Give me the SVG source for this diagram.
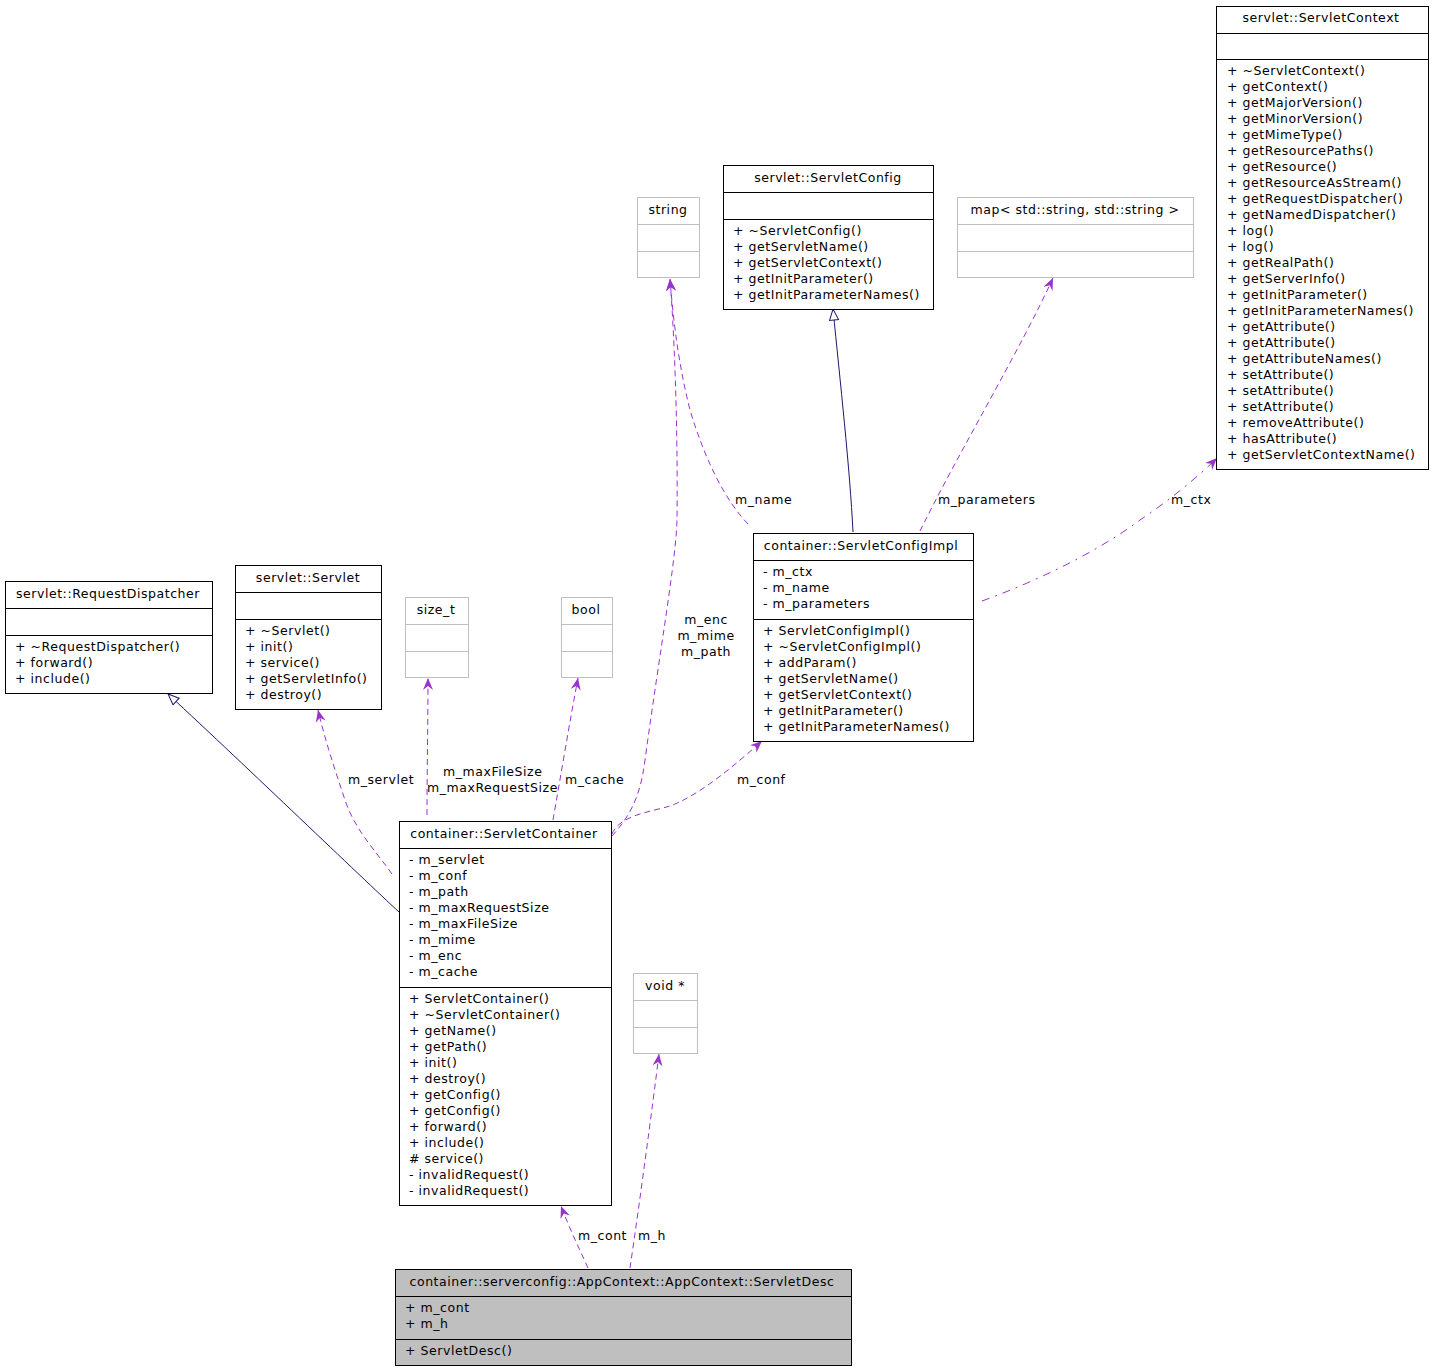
<svg xmlns="http://www.w3.org/2000/svg" width="1432" height="1371" viewBox="0 0 1432 1371">
<style>
text{font-family:"DejaVu Sans","Liberation Sans",sans-serif;font-size:12.5px;letter-spacing:0.55px;fill:#000}
.c{text-anchor:middle}
.box{fill:#fff;stroke:#000;stroke-width:1}
.gbox{fill:#fff;stroke:#bfbfbf;stroke-width:1}
.sel{fill:#bfbfbf;stroke:#000;stroke-width:1}
.ln{stroke:#000;stroke-width:1}
.gln{stroke:#bfbfbf;stroke-width:1}
.dep{fill:none;stroke:#9a32cd;stroke-width:1;stroke-dasharray:6,4}
.dd{fill:none;stroke:#9a32cd;stroke-width:1;stroke-dasharray:8,6,2,6}
.inh{fill:none;stroke:#191970;stroke-width:1}
</style>
<defs>
<marker id="vee" markerUnits="userSpaceOnUse" markerWidth="14" markerHeight="12" refX="12" refY="5" orient="auto">
<path d="M0,0 L12,5 L0,10 L4,5 Z" fill="#9a32cd"/>
</marker>
<marker id="tri" markerUnits="userSpaceOnUse" markerWidth="14" markerHeight="12" refX="12" refY="5" orient="auto">
<path d="M1,0.5 L12,5 L1,9.5 Z" fill="#fff" stroke="#191970"/>
</marker>
</defs>

<g id="connectors">
<path class="inh" marker-end="url(#tri)" d="M399,912 C360,876 250,770 168,694"/>
<path class="dep" marker-end="url(#vee)" d="M392,874 C375,850 355,830 345,800 C335,770 325,740 318,710"/>
<path class="dep" marker-end="url(#vee)" d="M427,815 C427,770 428,720 428,678"/>
<path class="dep" marker-end="url(#vee)" d="M553,820 C560,780 570,720 578,678"/>
<path class="dep" marker-end="url(#vee)" d="M612,834 C620,815 650,812 670,806 C700,795 735,765 762,741"/>
<path class="dep" marker-end="url(#vee)" d="M612,836 C628,818 640,800 645,760 C660,650 676,560 677,520 C678,420 674,330 670,279"/>
<path class="dep" marker-end="url(#vee)" d="M748,524 C725,500 705,460 690,410 C680,370 674,330 670,279"/>
<path class="inh" marker-end="url(#tri)" d="M853,532 C850,470 840,380 833,309"/>
<path class="dep" marker-end="url(#vee)" d="M920,531 C960,450 1020,350 1053,278"/>
<path class="dd" marker-end="url(#vee)" d="M982,601 C1040,580 1100,550 1140,520 C1170,500 1200,475 1217,458"/>
<path class="dep" marker-end="url(#vee)" d="M588,1268 C580,1250 570,1230 561,1206"/>
<path class="dep" marker-end="url(#vee)" d="M630,1268 C640,1200 652,1110 659,1054"/>
<text x="348" y="784">m_servlet</text>
<text x="443" y="776">m_maxFileSize</text>
<text x="427" y="792">m_maxRequestSize</text>
<text x="565" y="784">m_cache</text>
<text class="c" x="706" y="624">m_enc</text>
<text class="c" x="706" y="640">m_mime</text>
<text class="c" x="706" y="656">m_path</text>
<text x="735" y="504">m_name</text>
<text x="938" y="504">m_parameters</text>
<text x="1171" y="504">m_ctx</text>
<text x="737" y="784">m_conf</text>
<text x="578" y="1240">m_cont</text>
<text x="638" y="1240">m_h</text>
</g>

<g id="ServletContext">
<rect class="box" x="1216.5" y="6.5" width="212" height="463"/>
<line class="ln" x1="1216.5" y1="33.5" x2="1428.5" y2="33.5"/>
<line class="ln" x1="1216.5" y1="59.5" x2="1428.5" y2="59.5"/>
<text class="c" x="1321" y="22">servlet::ServletContext</text>
<text x="1227" y="75">+ ~ServletContext()</text>
<text x="1227" y="91">+ getContext()</text>
<text x="1227" y="107">+ getMajorVersion()</text>
<text x="1227" y="123">+ getMinorVersion()</text>
<text x="1227" y="139">+ getMimeType()</text>
<text x="1227" y="155">+ getResourcePaths()</text>
<text x="1227" y="171">+ getResource()</text>
<text x="1227" y="187">+ getResourceAsStream()</text>
<text x="1227" y="203">+ getRequestDispatcher()</text>
<text x="1227" y="219">+ getNamedDispatcher()</text>
<text x="1227" y="235">+ log()</text>
<text x="1227" y="251">+ log()</text>
<text x="1227" y="267">+ getRealPath()</text>
<text x="1227" y="283">+ getServerInfo()</text>
<text x="1227" y="299">+ getInitParameter()</text>
<text x="1227" y="315">+ getInitParameterNames()</text>
<text x="1227" y="331">+ getAttribute()</text>
<text x="1227" y="347">+ getAttribute()</text>
<text x="1227" y="363">+ getAttributeNames()</text>
<text x="1227" y="379">+ setAttribute()</text>
<text x="1227" y="395">+ setAttribute()</text>
<text x="1227" y="411">+ setAttribute()</text>
<text x="1227" y="427">+ removeAttribute()</text>
<text x="1227" y="443">+ hasAttribute()</text>
<text x="1227" y="459">+ getServletContextName()</text>
</g>

<g id="string">
<rect class="gbox" x="637.5" y="197.5" width="62" height="80"/>
<line class="gln" x1="637.5" y1="224.5" x2="699.5" y2="224.5"/>
<line class="gln" x1="637.5" y1="251.5" x2="699.5" y2="251.5"/>
<text class="c" x="668" y="214">string</text>
</g>

<g id="ServletConfig">
<rect class="box" x="723.5" y="165.5" width="210" height="144"/>
<line class="ln" x1="723.5" y1="192.5" x2="933.5" y2="192.5"/>
<line class="ln" x1="723.5" y1="219.5" x2="933.5" y2="219.5"/>
<text class="c" x="828" y="182">servlet::ServletConfig</text>
<text x="733" y="235">+ ~ServletConfig()</text>
<text x="733" y="251">+ getServletName()</text>
<text x="733" y="267">+ getServletContext()</text>
<text x="733" y="283">+ getInitParameter()</text>
<text x="733" y="299">+ getInitParameterNames()</text>
</g>

<g id="map">
<rect class="gbox" x="957.5" y="197.5" width="236" height="80"/>
<line class="gln" x1="957.5" y1="224.5" x2="1193.5" y2="224.5"/>
<line class="gln" x1="957.5" y1="251.5" x2="1193.5" y2="251.5"/>
<text class="c" x="1075" y="214">map&lt; std::string, std::string &gt;</text>
</g>

<g id="RequestDispatcher">
<rect class="box" x="5.5" y="581.5" width="207" height="112"/>
<line class="ln" x1="5.5" y1="608.5" x2="212.5" y2="608.5"/>
<line class="ln" x1="5.5" y1="635.5" x2="212.5" y2="635.5"/>
<text class="c" x="108" y="598">servlet::RequestDispatcher</text>
<text x="15" y="651">+ ~RequestDispatcher()</text>
<text x="15" y="667">+ forward()</text>
<text x="15" y="683">+ include()</text>
</g>

<g id="Servlet">
<rect class="box" x="235.5" y="565.5" width="146" height="144"/>
<line class="ln" x1="235.5" y1="592.5" x2="381.5" y2="592.5"/>
<line class="ln" x1="235.5" y1="619.5" x2="381.5" y2="619.5"/>
<text class="c" x="308" y="582">servlet::Servlet</text>
<text x="245" y="635">+ ~Servlet()</text>
<text x="245" y="651">+ init()</text>
<text x="245" y="667">+ service()</text>
<text x="245" y="683">+ getServletInfo()</text>
<text x="245" y="699">+ destroy()</text>
</g>

<g id="size_t">
<rect class="gbox" x="405.5" y="597.5" width="63" height="80"/>
<line class="gln" x1="405.5" y1="624.5" x2="468.5" y2="624.5"/>
<line class="gln" x1="405.5" y1="651.5" x2="468.5" y2="651.5"/>
<text class="c" x="436" y="614">size_t</text>
</g>

<g id="bool">
<rect class="gbox" x="561.5" y="597.5" width="51" height="80"/>
<line class="gln" x1="561.5" y1="624.5" x2="612.5" y2="624.5"/>
<line class="gln" x1="561.5" y1="651.5" x2="612.5" y2="651.5"/>
<text class="c" x="586" y="614">bool</text>
</g>

<g id="ServletConfigImpl">
<rect class="box" x="753.5" y="533.5" width="220" height="208"/>
<line class="ln" x1="753.5" y1="560.5" x2="973.5" y2="560.5"/>
<line class="ln" x1="753.5" y1="619.5" x2="973.5" y2="619.5"/>
<text class="c" x="861" y="550">container::ServletConfigImpl</text>
<text x="763" y="576">- m_ctx</text>
<text x="763" y="592">- m_name</text>
<text x="763" y="608">- m_parameters</text>
<text x="763" y="635">+ ServletConfigImpl()</text>
<text x="763" y="651">+ ~ServletConfigImpl()</text>
<text x="763" y="667">+ addParam()</text>
<text x="763" y="683">+ getServletName()</text>
<text x="763" y="699">+ getServletContext()</text>
<text x="763" y="715">+ getInitParameter()</text>
<text x="763" y="731">+ getInitParameterNames()</text>
</g>

<g id="ServletContainer">
<rect class="box" x="399.5" y="821.5" width="212" height="384"/>
<line class="ln" x1="399.5" y1="848.5" x2="611.5" y2="848.5"/>
<line class="ln" x1="399.5" y1="987.5" x2="611.5" y2="987.5"/>
<text class="c" x="504" y="838">container::ServletContainer</text>
<text x="409" y="864">- m_servlet</text>
<text x="409" y="880">- m_conf</text>
<text x="409" y="896">- m_path</text>
<text x="409" y="912">- m_maxRequestSize</text>
<text x="409" y="928">- m_maxFileSize</text>
<text x="409" y="944">- m_mime</text>
<text x="409" y="960">- m_enc</text>
<text x="409" y="976">- m_cache</text>
<text x="409" y="1003">+ ServletContainer()</text>
<text x="409" y="1019">+ ~ServletContainer()</text>
<text x="409" y="1035">+ getName()</text>
<text x="409" y="1051">+ getPath()</text>
<text x="409" y="1067">+ init()</text>
<text x="409" y="1083">+ destroy()</text>
<text x="409" y="1099">+ getConfig()</text>
<text x="409" y="1115">+ getConfig()</text>
<text x="409" y="1131">+ forward()</text>
<text x="409" y="1147">+ include()</text>
<text x="409" y="1163"># service()</text>
<text x="409" y="1179">- invalidRequest()</text>
<text x="409" y="1195">- invalidRequest()</text>
</g>

<g id="void">
<rect class="gbox" x="633.5" y="973.5" width="64" height="80"/>
<line class="gln" x1="633.5" y1="1000.5" x2="697.5" y2="1000.5"/>
<line class="gln" x1="633.5" y1="1027.5" x2="697.5" y2="1027.5"/>
<text class="c" x="665" y="990">void *</text>
</g>

<g id="ServletDesc">
<rect class="sel" x="395.5" y="1269.5" width="456" height="96"/>
<line class="ln" x1="395.5" y1="1296.5" x2="851.5" y2="1296.5"/>
<line class="ln" x1="395.5" y1="1339.5" x2="851.5" y2="1339.5"/>
<text class="c" x="622" y="1286">container::serverconfig::AppContext::AppContext::ServletDesc</text>
<text x="405" y="1312">+ m_cont</text>
<text x="405" y="1328">+ m_h</text>
<text x="405" y="1355">+ ServletDesc()</text>
</g>
</svg>
